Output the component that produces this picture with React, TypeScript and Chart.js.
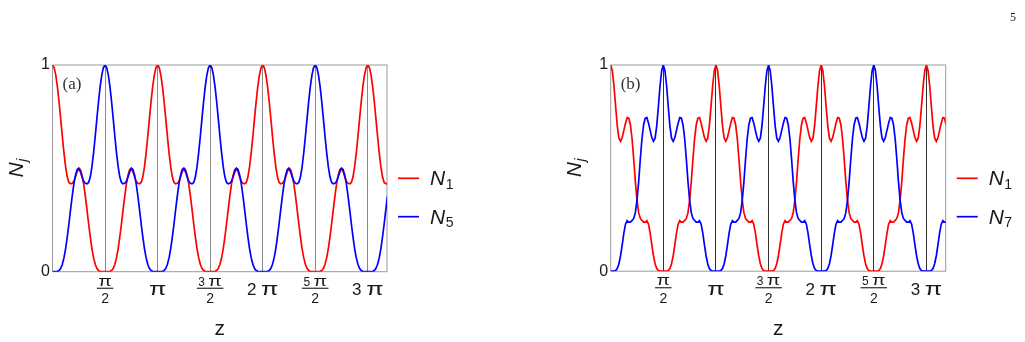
import React, { useEffect, useRef } from "react";
import { Chart, registerables } from "chart.js";

Chart.register(...registerables);

// sampling grid: z = i * π/64
const Z_STEP = Math.PI / 64;
const X_TICK_VALUES = [Math.PI / 2, Math.PI, (3 * Math.PI) / 2, 2 * Math.PI, (5 * Math.PI) / 2, 3 * Math.PI];
const X_TICK_LABELS = ["π/2", "π", "3 π/2", "2 π", "5 π/2", "3 π"];
const Y_TICK_VALUES = [0, 1];
const LEGEND_A = ["1", "5"];
const LEGEND_B = ["1", "7"];

// panel (a): N1 and N5
const N1_A = [
  1,.987,.951,.894,.821,.738,.653,.574,.507,.458,.432,.425,.428,.437,.458,.483,
  .5,.494,.467,.424,.366,.3,.232,.168,.112,.068,.036,.016,.006,.002,0,0,
  0,0,0,.002,.006,.016,.036,.068,.112,.168,.232,.3,.366,.424,.467,.494,
  .5,.483,.458,.437,.428,.425,.432,.458,.507,.574,.653,.738,.821,.894,.951,.987,
  1,.987,.951,.894,.821,.738,.653,.574,.507,.458,.432,.425,.428,.437,.458,.483,
  .5,.494,.467,.424,.366,.3,.232,.168,.112,.068,.036,.016,.006,.002,0,0,
  0,0,0,.002,.006,.016,.036,.068,.112,.168,.232,.3,.366,.424,.467,.494,
  .5,.483,.458,.437,.428,.425,.432,.458,.507,.574,.653,.738,.821,.894,.951,.987,
  1,.987,.951,.894,.821,.738,.653,.574,.507,.458,.432,.425,.428,.437,.458,.483,
  .5,.494,.467,.424,.366,.3,.232,.168,.112,.068,.036,.016,.006,.002,0,0,
  0,0,0,.002,.006,.016,.036,.068,.112,.168,.232,.3,.366,.424,.467,.494,
  .5,.483,.458,.437,.428,.425,.432,.458,.507,.574,.653,.738,.821,.894,.951,.987,
  1,.987,.951,.894,.821,.738,.653,.574,.507,.458,.432,.425,.428,
];
const N5_A = [
  0,0,0,.002,.006,.016,.036,.068,.112,.168,.232,.3,.366,.424,.467,.494,
  .5,.483,.458,.437,.428,.425,.432,.458,.507,.574,.653,.738,.821,.894,.951,.987,
  1,.987,.951,.894,.821,.738,.653,.574,.507,.458,.432,.425,.428,.437,.458,.483,
  .5,.494,.467,.424,.366,.3,.232,.168,.112,.068,.036,.016,.006,.002,0,0,
  0,0,0,.002,.006,.016,.036,.068,.112,.168,.232,.3,.366,.424,.467,.494,
  .5,.483,.458,.437,.428,.425,.432,.458,.507,.574,.653,.738,.821,.894,.951,.987,
  1,.987,.951,.894,.821,.738,.653,.574,.507,.458,.432,.425,.428,.437,.458,.483,
  .5,.494,.467,.424,.366,.3,.232,.168,.112,.068,.036,.016,.006,.002,0,0,
  0,0,0,.002,.006,.016,.036,.068,.112,.168,.232,.3,.366,.424,.467,.494,
  .5,.483,.458,.437,.428,.425,.432,.458,.507,.574,.653,.738,.821,.894,.951,.987,
  1,.987,.951,.894,.821,.738,.653,.574,.507,.458,.432,.425,.428,.437,.458,.483,
  .5,.494,.467,.424,.366,.3,.232,.168,.112,.068,.036,.016,.006,.002,0,0,
  0,0,0,.002,.006,.016,.036,.068,.112,.168,.232,.3,.366,
];

// panel (b): N1 and N7
const N1_B = [
  1,.972,.898,.799,.705,.645,.63,.648,.683,.718,.745,.742,.709,.641,.543,.433,
  .345,.284,.256,.246,.238,.238,.245,.228,.185,.128,.075,.036,.013,.003,0,0,
  0,0,0,.003,.013,.036,.075,.128,.185,.228,.245,.238,.238,.246,.256,.284,
  .345,.433,.543,.641,.709,.742,.745,.718,.683,.648,.63,.645,.705,.799,.898,.972,
  1,.972,.898,.799,.705,.645,.63,.648,.683,.718,.745,.742,.709,.641,.543,.433,
  .345,.284,.256,.246,.238,.238,.245,.228,.185,.128,.075,.036,.013,.003,0,0,
  0,0,0,.003,.013,.036,.075,.128,.185,.228,.245,.238,.238,.246,.256,.284,
  .345,.433,.543,.641,.709,.742,.745,.718,.683,.648,.63,.645,.705,.799,.898,.972,
  1,.972,.898,.799,.705,.645,.63,.648,.683,.718,.745,.742,.709,.641,.543,.433,
  .345,.284,.256,.246,.238,.238,.245,.228,.185,.128,.075,.036,.013,.003,0,0,
  0,0,0,.003,.013,.036,.075,.128,.185,.228,.245,.238,.238,.246,.256,.284,
  .345,.433,.543,.641,.709,.742,.745,.718,.683,.648,.63,.645,.705,.799,.898,.972,
  1,.972,.898,.799,.705,.645,.63,.648,.683,.718,.745,.742,.709,
];
const N7_B = [
  0,0,0,.003,.013,.036,.075,.128,.185,.228,.245,.238,.238,.246,.256,.284,
  .345,.433,.543,.641,.709,.742,.745,.718,.683,.648,.63,.645,.705,.799,.898,.972,
  1,.972,.898,.799,.705,.645,.63,.648,.683,.718,.745,.742,.709,.641,.543,.433,
  .345,.284,.256,.246,.238,.238,.245,.228,.185,.128,.075,.036,.013,.003,0,0,
  0,0,0,.003,.013,.036,.075,.128,.185,.228,.245,.238,.238,.246,.256,.284,
  .345,.433,.543,.641,.709,.742,.745,.718,.683,.648,.63,.645,.705,.799,.898,.972,
  1,.972,.898,.799,.705,.645,.63,.648,.683,.718,.745,.742,.709,.641,.543,.433,
  .345,.284,.256,.246,.238,.238,.245,.228,.185,.128,.075,.036,.013,.003,0,0,
  0,0,0,.003,.013,.036,.075,.128,.185,.228,.245,.238,.238,.246,.256,.284,
  .345,.433,.543,.641,.709,.742,.745,.718,.683,.648,.63,.645,.705,.799,.898,.972,
  1,.972,.898,.799,.705,.645,.63,.648,.683,.718,.745,.742,.709,.641,.543,.433,
  .345,.284,.256,.246,.238,.238,.245,.228,.185,.128,.075,.036,.013,.003,0,0,
  0,0,0,.003,.013,.036,.075,.128,.185,.228,.245,.238,.238,
];

const SANS = "'Liberation Sans', Arial, sans-serif";
const SERIF = "'Liberation Serif', 'Times New Roman', serif";
const RED = "#ff0000";
const BLUE = "#0000ff";
const TEXT = "#1a1a1a";
const PI_STRETCH = 1.4;

type Panel = {
  first: number[];
  other: number[];
  legend: string[];
  tag: string;
  gridColor: string;
  padding: { left: number; right: number; top: number; bottom: number };
  xHeight: number;
};

// draw text centred at cx; the π glyph gets its own size and a horizontal stretch
function drawMixed(ctx: CanvasRenderingContext2D, text: string, cx: number, y: number, digitSize: number, piSize: number) {
  const pieces = text.split("").map((ch) => ({ ch, size: ch === "π" ? piSize : digitSize, k: ch === "π" ? PI_STRETCH : 1 }));
  let total = 0;
  const widths = pieces.map((p) => {
    ctx.font = `${p.size}px ${SANS}`;
    const w = ctx.measureText(p.ch).width * p.k;
    total += w;
    return w;
  });
  let x = cx - total / 2;
  ctx.textAlign = "left";
  pieces.forEach((p, i) => {
    ctx.font = `${p.size}px ${SANS}`;
    ctx.save();
    ctx.translate(x, y);
    ctx.scale(p.k, 1);
    ctx.fillText(p.ch, 0, 0);
    ctx.restore();
    x += widths[i];
  });
  return total;
}

function decorPlugin(panel: Panel) {
  return {
    id: "decor",
    beforeDatasetsDraw(chart: any) {
      const { ctx, chartArea: a } = chart;
      ctx.save();
      ctx.strokeStyle = "#9a9a9a";
      ctx.lineWidth = 1;
      ctx.strokeRect(a.left, a.top, a.right - a.left, a.bottom - a.top);
      ctx.restore();
    },
    afterDraw(chart: any) {
      const { ctx, chartArea: a } = chart;
      const xs = chart.scales.x;
      ctx.save();
      ctx.fillStyle = TEXT;
      ctx.textBaseline = "alphabetic";
      X_TICK_VALUES.forEach((v, i) => {
        const px = xs.getPixelForValue(v);
        const parts = X_TICK_LABELS[i].split("/");
        if (parts.length === 2) {
          const w = drawMixed(ctx, parts[0], px, a.bottom + 13.8, 12, 14) + 3;
          ctx.fillRect(px - w / 2, a.bottom + 16, w, 1.1);
          drawMixed(ctx, parts[1], px, a.bottom + 31.6, 14, 14);
        } else {
          drawMixed(ctx, parts[0], px, a.bottom + 23.3, 17, 18);
        }
      });
      // x title
      ctx.textAlign = "center";
      ctx.font = `21px ${SANS}`;
      ctx.fillText("z", (a.left + a.right) / 2, a.bottom + 63.3);

      // y title N_j
      const cy = (a.top + a.bottom) / 2;
      ctx.font = `italic 21px ${SANS}`;
      const wN = ctx.measureText("N").width;
      ctx.font = `italic 14px ${SANS}`;
      const wj = ctx.measureText("j").width;
      ctx.save();
      ctx.translate(a.left - 30, cy + (wN + wj) / 2);
      ctx.rotate(-Math.PI / 2);
      ctx.textAlign = "left";
      ctx.font = `italic 21px ${SANS}`;
      ctx.fillText("N", 0, 0);
      ctx.font = `italic 14px ${SANS}`;
      ctx.fillText("j", wN + 0.5, 4);
      ctx.restore();

      // legend
      const colors = [RED, BLUE];
      panel.legend.forEach((sub, i) => {
        const ly = a.top + 113.3 + i * 38.4;
        ctx.strokeStyle = colors[i];
        ctx.lineWidth = 1.7;
        ctx.beginPath();
        ctx.moveTo(a.right + 11, ly);
        ctx.lineTo(a.right + 32, ly);
        ctx.stroke();
        ctx.fillStyle = TEXT;
        ctx.textAlign = "left";
        ctx.font = `italic 21px ${SANS}`;
        ctx.fillText("N", a.right + 43, ly + 7);
        const w = ctx.measureText("N").width;
        ctx.font = `14px ${SANS}`;
        ctx.fillText(sub, a.right + 43 + w + 0.5, ly + 10.5);
      });

      // panel tag
      ctx.font = `17px ${SERIF}`;
      ctx.fillStyle = "#333";
      ctx.textAlign = "left";
      ctx.fillText(panel.tag, a.left + 10, a.top + 24);
      ctx.restore();
    },
  };
}

function PanelChart({ panel, left, width }: { panel: Panel; left: number; width: number }) {
  const ref = useRef<HTMLCanvasElement>(null);
  useEffect(() => {
    if (!ref.current) return;
    const toPts = (arr: number[]) => arr.map((y, i) => ({ x: i * Z_STEP, y }));
    const chart = new Chart(ref.current, {
      type: "line",
      data: {
        datasets: [
          { label: "N" + panel.legend[1], data: toPts(panel.other), borderColor: BLUE, borderWidth: 1.7, pointRadius: 0, order: 0, tension: 0 },
          { label: "N" + panel.legend[0], data: toPts(panel.first), borderColor: RED, borderWidth: 1.7, pointRadius: 0, order: 1, tension: 0 },
        ],
      } as any,
      options: {
        responsive: false,
        animation: false,
        layout: { padding: panel.padding },
        plugins: { legend: { display: false }, tooltip: { enabled: false } },
        scales: {
          x: {
            type: "linear",
            min: 0,
            max: 10,
            afterBuildTicks: (s: any) => {
              s.ticks = X_TICK_VALUES.map((v) => ({ value: v }));
            },
            afterFit: (s: any) => {
              s.height = panel.xHeight;
            },
            ticks: { display: false },
            grid: { color: panel.gridColor, drawTicks: false, lineWidth: 1 },
            border: { display: false },
          },
          y: {
            type: "linear",
            min: 0,
            max: 1,
            afterBuildTicks: (s: any) => {
              s.ticks = Y_TICK_VALUES.map((v) => ({ value: v }));
            },
            afterFit: (s: any) => {
              s.width = 52.5;
            },
            ticks: { padding: 2.5, color: TEXT, font: { size: 16, family: SANS }, callback: (v: any) => String(v) },
            grid: { display: false, drawTicks: false },
            border: { display: false },
          },
        },
      } as any,
      plugins: [decorPlugin(panel)],
    });
    return () => chart.destroy();
  }, []);
  return <canvas ref={ref} width={width} height={342} style={{ position: "absolute", left, top: 0 }} />;
}

const PANEL_A: Panel = {
  first: N1_A,
  other: N5_A,
  legend: LEGEND_A,
  tag: "(a)",
  gridColor: "#8a8a8a",
  padding: { left: 0, right: 125, top: 65, bottom: 0 },
  xHeight: 70.3,
};

const PANEL_B: Panel = {
  first: N1_B,
  other: N7_B,
  legend: LEGEND_B,
  tag: "(b)",
  gridColor: "#333333",
  padding: { left: 46.2, right: 79.3, top: 65, bottom: 0 },
  xHeight: 70.8,
};

export default function App() {
  return (
    <div style={{ position: "absolute", left: 0, top: 0, width: 1025, height: 342, background: "#fff", overflow: "hidden" }}>
      <PanelChart panel={PANEL_A} left={0} width={512} />
      <PanelChart panel={PANEL_B} left={512} width={513} />
      <div style={{ position: "absolute", left: 1010, top: 10.5, font: `12px ${SERIF}`, lineHeight: "12px", color: "#222" }}>5</div>
    </div>
  );
}
